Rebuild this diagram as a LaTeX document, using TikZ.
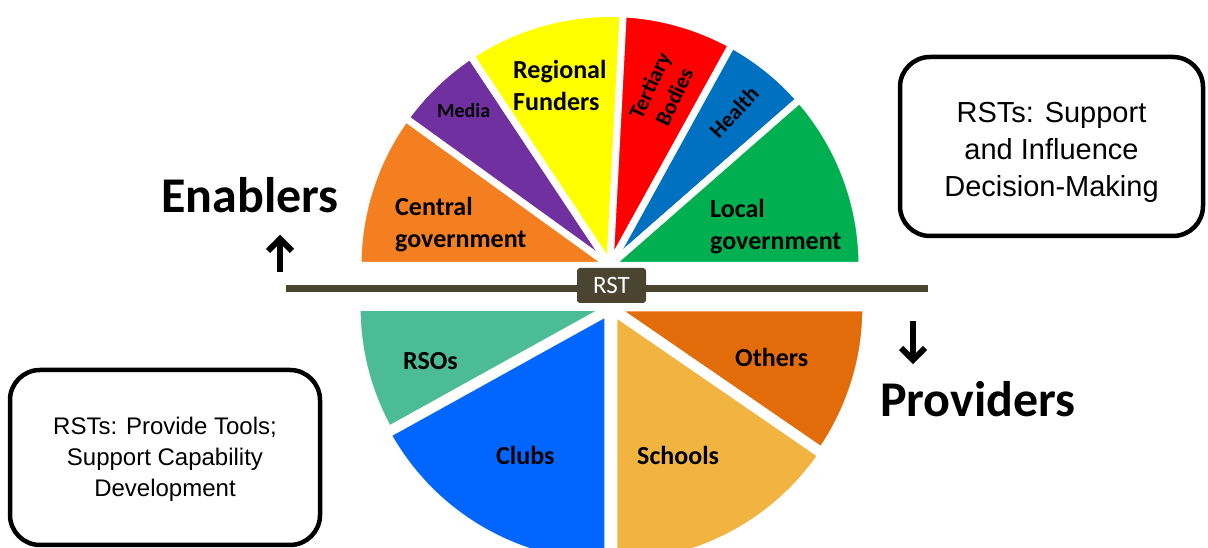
\documentclass[tikz,border=0pt]{standalone}
\usepackage{fontspec}
\setmainfont{Carlito}
\newfontfamily\arialf{Liberation Sans}
\usetikzlibrary{calc}
\definecolor{cOrange}{HTML}{F47F20}
\definecolor{cPurple}{HTML}{7030A0}
\definecolor{cYellow}{HTML}{FFFF00}
\definecolor{cRed}{HTML}{FF0000}
\definecolor{cBlue}{HTML}{0070C0}
\definecolor{cGreen}{HTML}{00B050}
\definecolor{cTeal}{HTML}{4BBC96}
\definecolor{cClubs}{HTML}{0066FF}
\definecolor{cSchools}{HTML}{F2B441}
\definecolor{cOthers}{HTML}{E36C0A}
\definecolor{cBar}{HTML}{4B4431}
\newcommand\drawwedge[5]{%
  \fill[#2, draw=white, line width=7pt, line join=round]
    ($(#1)+({(#3+#4)/2}:#5)$) -- ++(#3:252) arc[start angle=#3, end angle=#4, radius=252] -- cycle;}
\begin{document}
\begin{tikzpicture}[x=1pt,y=1pt,
  lab/.style={font=\fontsize{26}{32}\selectfont\bfseries, inner sep=0pt, align=left, text=black},
  smalllab/.style={font=\fontsize{21}{26}\selectfont\bfseries, inner sep=0pt, align=center, text=black},
  biglab/.style={font=\fontsize{50}{60}\selectfont\bfseries, inner sep=0pt, text=black},
  infobox/.style={draw=black, line width=4.5pt, rounded corners=30pt},
  infotext/.style={font=\arialf, align=center, inner sep=0pt, text=black},
  arrowline/.style={draw=black, line width=6pt, line cap=butt, line join=miter, miter limit=10}
]
\useasboundingbox (0,0) rectangle (1208,548);
\clip (0,0) rectangle (1208,548);
\fill[white] (0,0) rectangle (1208,548);

\coordinate (T) at (610,282.5);
\coordinate (B) at (611,241);

% top half (enablers)
\drawwedge{T}{cOrange}{144.2}{180}{0}
\drawwedge{T}{cPurple}{123.6}{144.2}{0}
\drawwedge{T}{cYellow}{87}{123.6}{0}
\drawwedge{T}{cRed}{61.1}{87}{0}
\drawwedge{T}{cBlue}{41.2}{61.1}{0}
\drawwedge{T}{cGreen}{0}{41.2}{0}

% bottom half (providers)
\drawwedge{B}{cTeal}{180}{209}{2}
\drawwedge{B}{cClubs}{209}{270}{6}
\drawwedge{B}{cSchools}{270}{325.5}{6}
\drawwedge{B}{cOthers}{325.5}{360}{3}

% labels in wedges
\node[lab, anchor=west] (central) at (395,323) {Central\\government};
\node[smalllab, font=\fontsize{20}{24}\selectfont\bfseries, anchor=base west] (media) at (437,430) {Media};
\node[lab, anchor=west] (regional) at (513,463) {Regional\\Funders};
\node[smalllab, font=\fontsize{22}{27}\selectfont\bfseries, rotate=65] (tertiary) at (662,457) {Tertiary\\Bodies};
\node[smalllab, font=\fontsize{22}{26}\selectfont\bfseries, rotate=47] (health) at (734,436) {Health};
\node[lab, anchor=west] (local) at (710,321.5) {Local\\government};
\node[lab, anchor=base west] (rsos) at (403,178) {RSOs};
\node[lab, anchor=base west] (others) at (735,181) {Others};
\node[lab, anchor=base west] (clubs) at (496,83) {Clubs};
\node[lab, anchor=base west] (schools) at (637,83) {Schools};

% RST bar
\coordinate (barL) at (286,259.5);
\coordinate (barR) at (928,259.5);
\draw[cBar, line width=7pt] (barL) -- (barR);
\node[fill=cBar, rounded corners=3pt, minimum width=69pt, minimum height=35pt, inner sep=0pt,
      text=white, font=\fontsize{25}{30}\selectfont] (rst) at (611.5,262.5) {RST};

% Enablers / Providers
\node[biglab, anchor=base west] (enablers) at (161,335) {Enablers};
\coordinate (ua1) at (280,276);
\coordinate (ua2) at (280,309);
\draw[arrowline] (ua1) -- (ua2);
\draw[arrowline] ($(ua2)+(-12,-12)$) -- ($(ua2)+(0,0)$) -- ($(ua2)+(12,-12)$);
\node[biglab, anchor=base west] (providers) at (880,131) {Providers};
\coordinate (da1) at (913,227);
\coordinate (da2) at (913,188);
\draw[arrowline] (da1) -- (da2);
\draw[arrowline] ($(da2)+(-12,12)$) -- ($(da2)+(0,0)$) -- ($(da2)+(12,12)$);

% info boxes
\draw[infobox] (900,491) rectangle (1203,312);
\node[infotext, font=\arialf\fontsize{29}{37}\selectfont] (rbox) at (1051.5,396)
  {RSTs: Support\\and Influence\\Decision-Making};
\draw[infobox] (10,178) rectangle (320,3);
\node[infotext, font=\arialf\fontsize{24}{31}\selectfont] (lbox) at (165,89)
  {RSTs: Provide Tools;\\Support Capability\\Development};
\end{tikzpicture}
\end{document}
